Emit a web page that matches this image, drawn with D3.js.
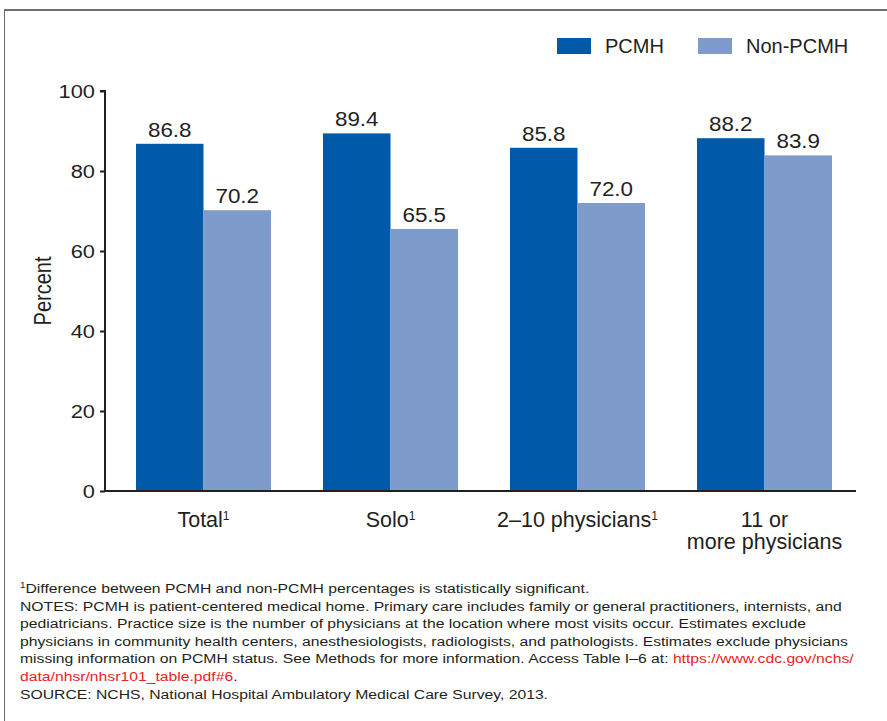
<!DOCTYPE html>
<html lang="en">
<head>
<meta charset="utf-8">
<title>PCMH by practice size</title>
<script src="https://cdn.jsdelivr.net/npm/d3@7"></script>
<style>
  body { margin: 0; background: #fff; }
  svg { display: block; font-family: "Liberation Sans", Arial, sans-serif; }
</style>
</head>
<body>
<script>
// data
var categories = ["Total", "Solo", "2\u201310 physicians", "11 or more physicians"];
var categoryLines = [["Total\u00b9"], ["Solo\u00b9"], ["2\u201310 physicians\u00b9"], ["11 or", "more physicians"]];
var seriesNames = ["PCMH", "Non-PCMH"];
var pcmh = [86.8, 89.4, 85.8, 88.2];
var nonPcmh = [70.2, 65.5, 72.0, 83.9];
var yTicks = [0, 20, 40, 60, 80, 100];
var notes = [
  [{t: "\u00b9Difference between PCMH and non-PCMH percentages is statistically significant."}],
  [{t: "NOTES: PCMH is patient-centered medical home. Primary care includes family or general practitioners, internists, and"}],
  [{t: "pediatricians. Practice size is the number of physicians at the location where most visits occur. Estimates exclude"}],
  [{t: "physicians in community health centers, anesthesiologists, radiologists, and pathologists. Estimates exclude physicians"}],
  [{t: "missing information on PCMH status. See Methods for more information. Access Table I\u20136 at: "}, {t: "https://www.cdc.gov/nchs/", link: true}],
  [{t: "data/nhsr/nhsr101_table.pdf#6", link: true}, {t: "."}],
  [{t: "SOURCE: NCHS, National Hospital Ambulatory Medical Care Survey, 2013."}]
];

var w = 887, h = 721;
var colors = ["#0059a9", "#7f9bcc"];
var ink = "#231f20";
var numStretch = 1.15;   // number labels are drawn wider than normal

var svg = d3.select("body").append("svg")
  .attr("width", w)
  .attr("height", h);

// frame
svg.append("line").attr("x1", 4).attr("x2", w).attr("y1", 10).attr("y2", 10)
  .attr("stroke", "#6d6e71").attr("stroke-width", 2);
svg.append("line").attr("x1", 4.5).attr("x2", 4.5).attr("y1", 10).attr("y2", h)
  .attr("stroke", "#6d6e71").attr("stroke-width", 1);

var x0 = d3.scaleBand().domain(categories).range([110, 858]).padding(0);
var x1 = d3.scaleBand().domain(seriesNames).range([0, 135]);
var y = d3.scaleLinear().domain([0, 100]).range([491, 91]);

var groups = svg.selectAll("g.grp")
  .data(categories)
  .enter().append("g")
  .attr("class", "grp")
  .attr("transform", function(d) { return "translate(" + (x0(d) + x0.bandwidth() / 2 - 67.5) + ",0)"; });

groups.each(function(d, i) {
  var g = d3.select(this);
  var vals = [pcmh[i], nonPcmh[i]];
  g.selectAll("rect")
    .data(vals)
    .enter().append("rect")
    .attr("x", function(v, j) { return x1(seriesNames[j]); })
    .attr("y", function(v) { return y(v); })
    .attr("width", x1.bandwidth())
    .attr("height", function(v) { return y(0) - y(v); })
    .attr("fill", function(v, j) { return colors[j]; });
  g.selectAll("text.val")
    .data(vals)
    .enter().append("text")
    .attr("class", "val")
    .attr("transform", function(v, j) {
      return "translate(" + (x1(seriesNames[j]) + x1.bandwidth() / 2) + "," + (y(v) - 7) + ") scale(" + numStretch + ",1)";
    })
    .attr("text-anchor", "middle")
    .attr("font-size", "19.5px")
    .attr("fill", ink)
    .text(function(v) { return v.toFixed(1); });
});

// y axis
var yAxis = d3.axisLeft(y).tickValues(yTicks).tickSize(5).tickPadding(6);
var ya = svg.append("g")
  .attr("transform", "translate(105,0)")
  .call(yAxis);
ya.select(".domain").attr("stroke", ink).attr("stroke-width", 2)
  .attr("d", "M0," + y(100) + "H5V" + y(0)).attr("transform", "translate(-5,0)");
ya.selectAll(".tick line").attr("stroke", ink).attr("stroke-width", 2);
ya.selectAll(".tick text")
  .attr("font-size", "19px").attr("fill", ink)
  .attr("font-family", "Liberation Sans, Arial, sans-serif")
  .attr("x", -10 / numStretch)
  .attr("transform", "scale(" + numStretch + ",1)");

// x axis line
svg.append("line")
  .attr("x1", 104).attr("x2", x0.range()[1] - 2)
  .attr("y1", y(0)).attr("y2", y(0))
  .attr("stroke", ink).attr("stroke-width", 2);

// category labels
svg.selectAll("text.cat")
  .data(categories)
  .enter().append("text")
  .attr("class", "cat")
  .attr("x", function(d) { return x0(d) + x0.bandwidth() / 2; })
  .attr("y", 527)
  .attr("text-anchor", "middle")
  .attr("font-size", "21.5px")
  .attr("fill", ink)
  .each(function(d, i) {
    var t = d3.select(this);
    categoryLines[i].forEach(function(line, k) {
      var m = line.match(/^(.*?)(\u00b9?)$/);
      t.append("tspan").attr("x", x0(d) + x0.bandwidth() / 2).attr("dy", k === 0 ? 0 : 22).text(m[1]);
      if (m[2]) {
        t.append("tspan").attr("font-size", "12px").attr("dy", -7).text("1");
      }
    });
  });

// y title
svg.append("text")
  .attr("transform", "translate(51,291) rotate(-90) scale(1,1.15)")
  .attr("text-anchor", "middle")
  .attr("font-size", "20px")
  .attr("fill", ink)
  .text("Percent");

// legend
var legend = svg.selectAll("g.leg")
  .data(seriesNames)
  .enter().append("g")
  .attr("class", "leg")
  .attr("transform", function(d, i) { return "translate(" + [557, 698][i] + ",38)"; });
legend.append("rect").attr("width", 34).attr("height", 16)
  .attr("fill", function(d, i) { return colors[i]; });
legend.append("text").attr("x", 48).attr("y", 15)
  .attr("font-size", "20px").attr("fill", ink)
  .text(function(d) { return d; });

// notes
var nt = svg.append("g").attr("font-size", "13.5px").attr("fill", ink);
notes.forEach(function(line, i) {
  var t = nt.append("text").attr("transform", "translate(20," + (593 + i * 17.6) + ") scale(1.165,1)");
  line.forEach(function(seg, k) {
    if (i === 0 && k === 0) {
      t.append("tspan").attr("font-size", "8.5px").attr("dy", -5).text("1");
      t.append("tspan").attr("dy", 5).text(seg.t.slice(1));
      return;
    }
    t.append("tspan").attr("fill", seg.link ? "#ed1c24" : null).text(seg.t);
  });
});
</script>
</body>
</html>
